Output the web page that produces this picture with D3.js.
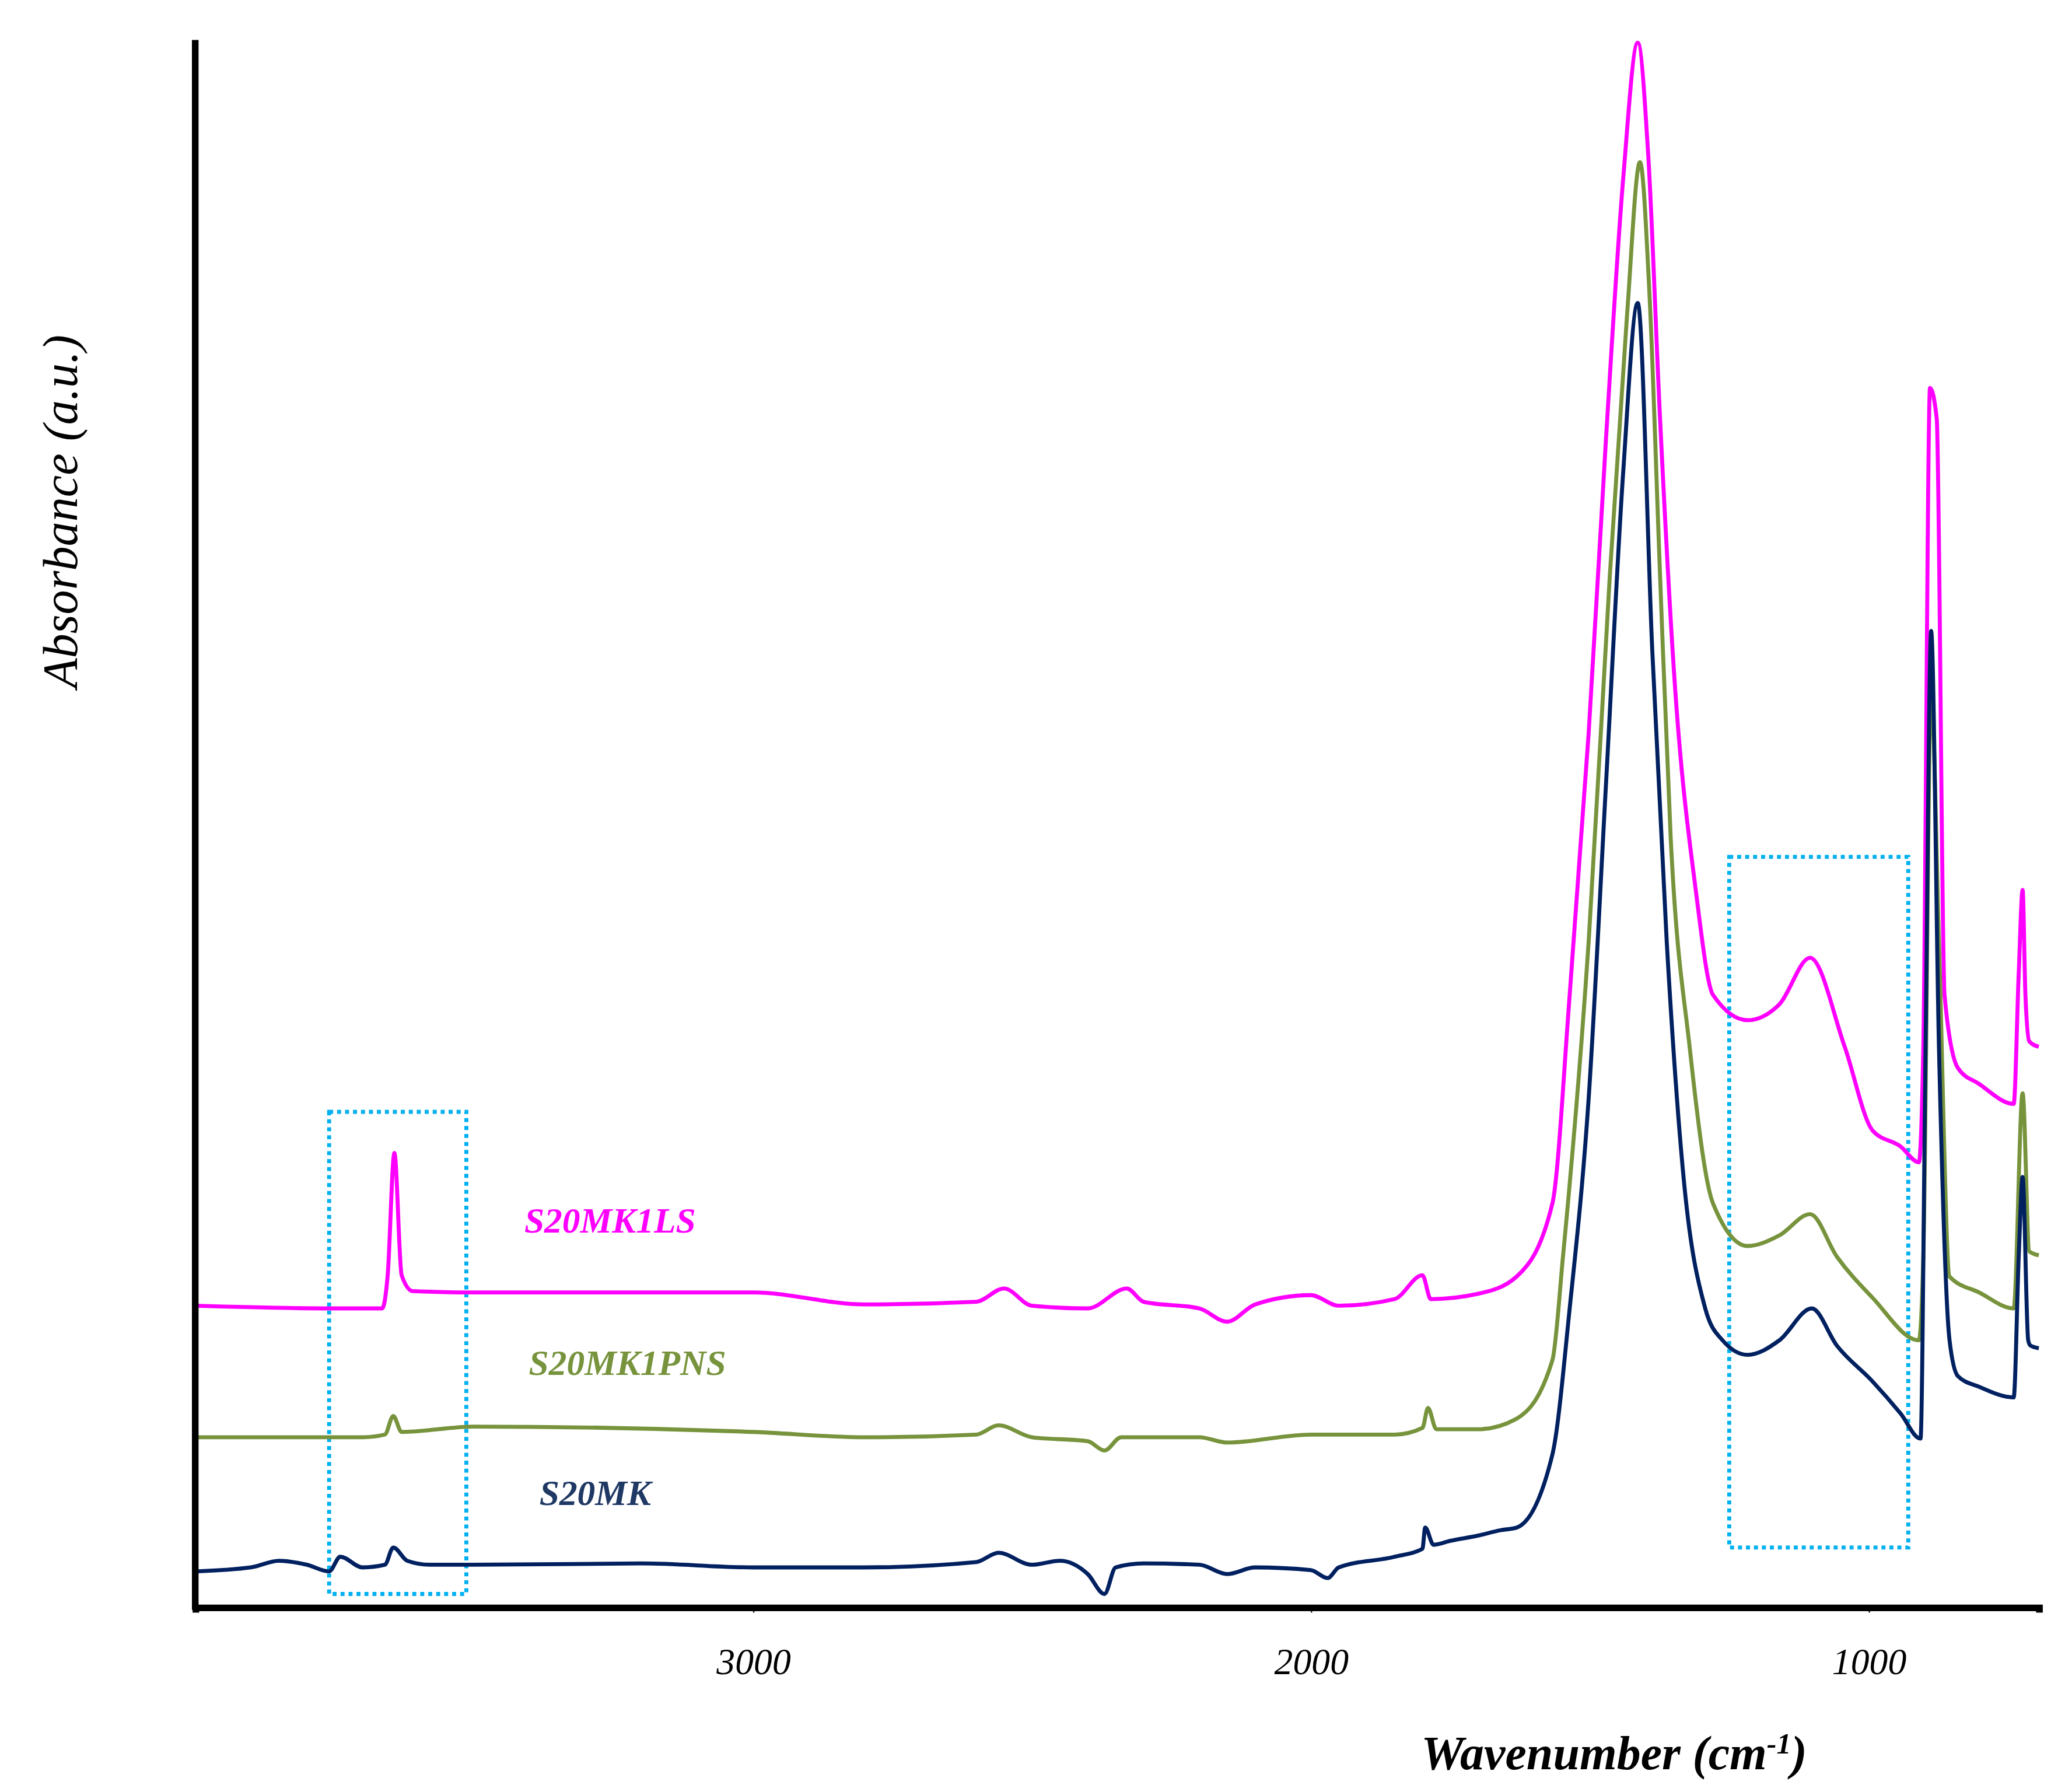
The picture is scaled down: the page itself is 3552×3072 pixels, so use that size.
<!DOCTYPE html>
<html>
<head>
<meta charset="utf-8">
<script src="https://cdn.jsdelivr.net/npm/d3@7"></script>
<style>
  body { margin: 0; background: #fff; }
  text { font-family: "Liberation Serif", serif; font-style: italic; }
</style>
</head>
<body>
<div id="chart"></div>
<script>
// spectra: [wavenumber cm-1, absorbance a.u.]
const s20mk = [[4000,2.7],[3900,3.0],[3850,3.5],[3800,3.2],[3760,2.7],[3740,3.8],[3700,3.0],[3660,3.2],[3645,4.5],[3620,3.5],[3580,3.2],[3500,3.2],[3200,3.3],[3000,3.0],[2800,3.0],[2600,3.4],[2560,4.1],[2500,3.2],[2450,3.5],[2400,2.5],[2370,1.0],[2350,3.0],[2300,3.3],[2200,3.2],[2150,2.5],[2100,3.0],[2000,2.8],[1970,2.2],[1950,3.0],[1850,3.8],[1800,4.4],[1795,6.0],[1780,4.7],[1750,5.0],[1700,5.4],[1660,5.8],[1631,6.0],[1567,11.5],[1536,22.5],[1502,38.3],[1471,61.9],[1440,85.5],[1414,98.2],[1388,72.1],[1362,50.1],[1331,32],[1293,22.5],[1262,20.1],[1217,19],[1160,20.1],[1102,22.5],[1057,19.7],[993,17],[943,14.6],[907,12.7],[898,42.2],[888,73.5],[874,42.2],[855,20.1],[840,17.4],[802,16.6],[740,15.8],[731,26.4],[724,32.4],[714,20.1],[710,19.7],[695,19.5]]
const s20mk1pns = [[4000,12.8],[3700,12.8],[3660,13],[3645,14.4],[3630,13.2],[3500,13.6],[3000,13.2],[2800,12.8],[2600,13],[2560,13.7],[2500,12.8],[2400,12.5],[2370,11.8],[2340,12.8],[2200,12.8],[2150,12.4],[2000,13],[1850,13],[1800,13.5],[1790,15],[1775,13.4],[1700,13.4],[1631,14.2],[1567,18.6],[1548,26.4],[1502,50.1],[1464,77.7],[1433,97.4],[1410,108.8],[1393,98.9],[1374,77.7],[1355,58],[1321,42.2],[1279,30.4],[1217,27.2],[1160,28],[1105,29.6],[1057,26.4],[993,23.3],[910,20.1],[902,26.4],[888,69],[874,50.1],[855,24.9],[802,23.7],[740,22.5],[724,38.7],[712,26.8],[695,26.5]]
const s20mk1ls = [[4000,22.7],[3760,22.5],[3665,22.5],[3655,25],[3643,34.2],[3630,25],[3610,23.8],[3500,23.7],[3000,23.7],[2800,22.8],[2600,23],[2550,24],[2500,22.7],[2400,22.5],[2330,24],[2300,23],[2200,22.5],[2150,21.5],[2100,22.8],[2000,23.5],[1950,22.7],[1850,23.2],[1800,25],[1785,23.2],[1700,23.6],[1631,24.9],[1567,30.4],[1536,46.1],[1502,65.8],[1471,87.9],[1440,107.6],[1414,117.8],[1395,109.2],[1374,89.5],[1348,69.8],[1310,54],[1279,46.1],[1217,44.2],[1160,45.4],[1105,48.9],[1043,42.2],[993,35.9],[943,34.7],[910,33.5],[902,42.2],[890,91.8],[878,89.5],[864,46.1],[840,40.6],[802,39.4],[740,37.9],[731,47.7],[724,54],[719,46.1],[712,42.6],[695,42.2]]
const seriesNames = ["S20MK1LS", "S20MK1PNS", "S20MK"]
const seriesColors = ["#ff00ff", "#77933c", "#002060"]
const labelColors = ["#ff00ff", "#77933c", "#1f3864"]
const labelPos = [[3410, 28.2], [3402, 17.5], [3383, 7.7]]   // [wavenumber, absorbance] of label anchor
const tickValues = [3000, 2000, 1000]
// highlighted regions: [wn left, wn right, abs bottom, abs top]
const boxes = [[3760, 3514, 1.0, 37.3], [1250, 929, 4.5, 56.5]]

const W = 1560, H = 1349
const svg = d3.select("#chart").append("svg")
  .attr("width", 3552).attr("height", 3072)
  .attr("viewBox", `0 0 ${W} ${H}`)

const x = d3.scaleLinear().domain([4000, 695]).range([147, 1535])
const y = d3.scaleLinear().domain([0, 118]).range([1210, 30])

const line = d3.line().x(d => x(d[0])).y(d => y(d[1])).curve(d3.curveMonotoneX)

//dashed boxes
boxes.forEach(b => {
  svg.append("rect")
    .attr("x", x(b[0])).attr("y", y(b[3]))
    .attr("width", x(b[1]) - x(b[0])).attr("height", y(b[2]) - y(b[3]))
    .attr("fill", "none").attr("stroke", "#00b0f0")
    .attr("stroke-width", 3).attr("stroke-dasharray", "3,3")
})

const data = [s20mk1ls, s20mk1pns, s20mk]
data.forEach((d, i) => {
  svg.append("path").datum(d).attr("d", line)
    .attr("fill", "none").attr("stroke", seriesColors[i])
    .attr("stroke-width", 3).attr("stroke-linejoin", "round")
})

//axes
const xAxis = svg.append("g").attr("transform", "translate(0,1210)")
  .call(d3.axisBottom(x).tickValues(tickValues).tickSize(4).tickFormat(d3.format("d")))
xAxis.select(".domain").attr("stroke", "#000").attr("stroke-width", 5)
xAxis.selectAll("text").attr("font-size", 28).attr("dy", "1.55em").attr("fill", "#000")
  .style("font-family", "Liberation Serif").style("font-style", "italic")
svg.append("line").attr("x1", 147).attr("x2", 147).attr("y1", 30).attr("y2", 1212)
  .attr("stroke", "#000").attr("stroke-width", 5)

//labels
seriesNames.forEach((n, i) => {
  svg.append("text").attr("x", x(labelPos[i][0])).attr("y", y(labelPos[i][1]))
    .attr("fill", labelColors[i]).attr("font-size", 27).attr("font-weight", "bold")
    .text(n)
})

svg.append("text").attr("x", 1070).attr("y", 1332)
  .attr("font-size", 36).attr("font-weight", "bold")
  .html('Wavenumber (cm<tspan dy="-12" font-size="22">-1</tspan><tspan dy="12">)</tspan>')

svg.append("text").attr("transform", "translate(58,385) rotate(-90)")
  .attr("text-anchor", "middle").attr("font-size", 37)
  .text("Absorbance (a.u.)")
</script>
</body>
</html>
